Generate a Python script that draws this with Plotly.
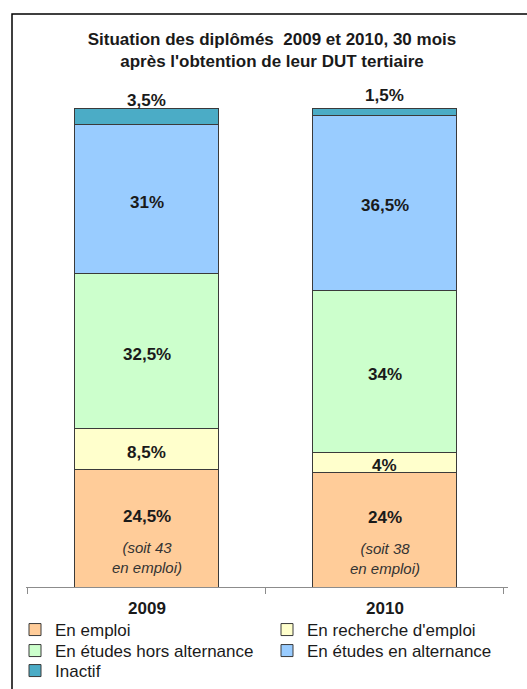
import plotly.graph_objects as go

years = ["2009", "2010"]
series_names = ["En emploi", "En recherche d'emploi", "En études hors alternance",
                "En études en alternance", "Inactif"]
en_emploi = [24.5, 24]
en_recherche = [8.5, 4]
hors_alternance = [32.5, 34]
en_alternance = [31, 36.5]
inactif = [3.5, 1.5]
emploi_counts = [43, 38]

colors = ["#FFCC99", "#FFFFCC", "#CCFFCC", "#99CCFF", "#4BACC6"]
series = [en_emploi, en_recherche, hors_alternance, en_alternance, inactif]

FONT = "Liberation Sans, Arial, sans-serif"
legend_ids = ["legend", "legend2", "legend3", "legend4", "legend5"]
legend_cols_px = [15, 267]
legend_rows_px = [612, 633, 653]


def fr(v):
    s = ("%g" % v).replace(".", ",")
    return s + "%"


fig = go.Figure()
for k, (name, vals, col) in enumerate(zip(series_names, series, colors)):
    fig.add_trace(go.Bar(
        x=years, y=vals, name=name, width=0.605,
        marker=dict(color=col, line=dict(color="#3a3a3a", width=1)),
        legend=legend_ids[k],
        hoverinfo="skip",
    ))

annotations = []
bases = [0.0] * len(years)
for si, vals in enumerate(series):
    for i, yr in enumerate(years):
        center = bases[i] + vals[i] / 2
        if si == 0:
            annotations.append(dict(x=i, y=center, text="<b>" + fr(vals[i]) + "</b>",
                                    showarrow=False, yshift=12,
                                    font=dict(size=17, color="#1a1a1a", family=FONT)))
            annotations.append(dict(x=i, y=center,
                                    text="<i>(soit %d<br>en emploi)</i>" % emploi_counts[i],
                                    showarrow=False, yshift=-29,
                                    font=dict(size=15, color="#333333", family=FONT)))
        elif si == 4:
            annotations.append(dict(x=i, y=center, text="<b>" + fr(vals[i]) + "</b>",
                                    showarrow=False, yshift=16,
                                    font=dict(size=17, color="#1a1a1a", family=FONT)))
        else:
            annotations.append(dict(x=i, y=center, text="<b>" + fr(vals[i]) + "</b>",
                                    showarrow=False, yshift=-3,
                                    font=dict(size=17, color="#1a1a1a", family=FONT)))
        bases[i] += vals[i]

legend_common = dict(orientation="h", xref="container", xanchor="left",
                     yref="container", yanchor="top", traceorder="normal",
                     itemwidth=30, bgcolor="rgba(0,0,0,0)",
                     font=dict(size=17, color="#1a1a1a", family=FONT))
legend_layout = {}
for k, lid in enumerate(legend_ids):
    legend_layout[lid] = dict(legend_common,
                              x=legend_cols_px[k % 2] / 527,
                              y=1 - legend_rows_px[k // 2] / 689)

fig.update_layout(
    width=527, height=689,
    barmode="stack",
    paper_bgcolor="white", plot_bgcolor="white",
    margin=dict(l=26, r=19, t=108, b=102, autoexpand=False),
    font=dict(family=FONT, color="#1a1a1a"),
    title=dict(text="<b>Situation des diplômés  2009 et 2010, 30 mois<br>après l'obtention de leur DUT tertiaire</b>",
               x=272 / 527, xanchor="center", xref="container",
               y=1 - 45 / 689, yanchor="top", yref="container",
               font=dict(size=17, color="#1a1a1a", family=FONT)),
    xaxis=dict(type="category", range=[-0.508, 1.517], showline=True, linecolor="#8c8c8c",
               linewidth=1, ticks="outside", tickson="boundaries", ticklen=6, tickcolor="#8c8c8c",
               ticklabelstandoff=6,
               tickfont=dict(size=17, color="#1a1a1a", family=FONT),
               tickprefix="<b>", ticksuffix="</b>", showgrid=False, zeroline=False),
    yaxis=dict(range=[0, 100], visible=False, showgrid=False, zeroline=False),
    showlegend=True,
    annotations=annotations,
    shapes=[dict(type="rect", xref="paper", yref="paper",
                 x0=(12 - 26) / 482, x1=1.2, y0=-0.4, y1=(587 - 14) / 479,
                 line=dict(color="black", width=1.5), fillcolor="rgba(0,0,0,0)", layer="below")],
    **legend_layout,
)

fig.write_html("out.html", config={"displayModeBar": False},
               post_script="document.body.style.margin='0';document.body.style.overflow='hidden';")
